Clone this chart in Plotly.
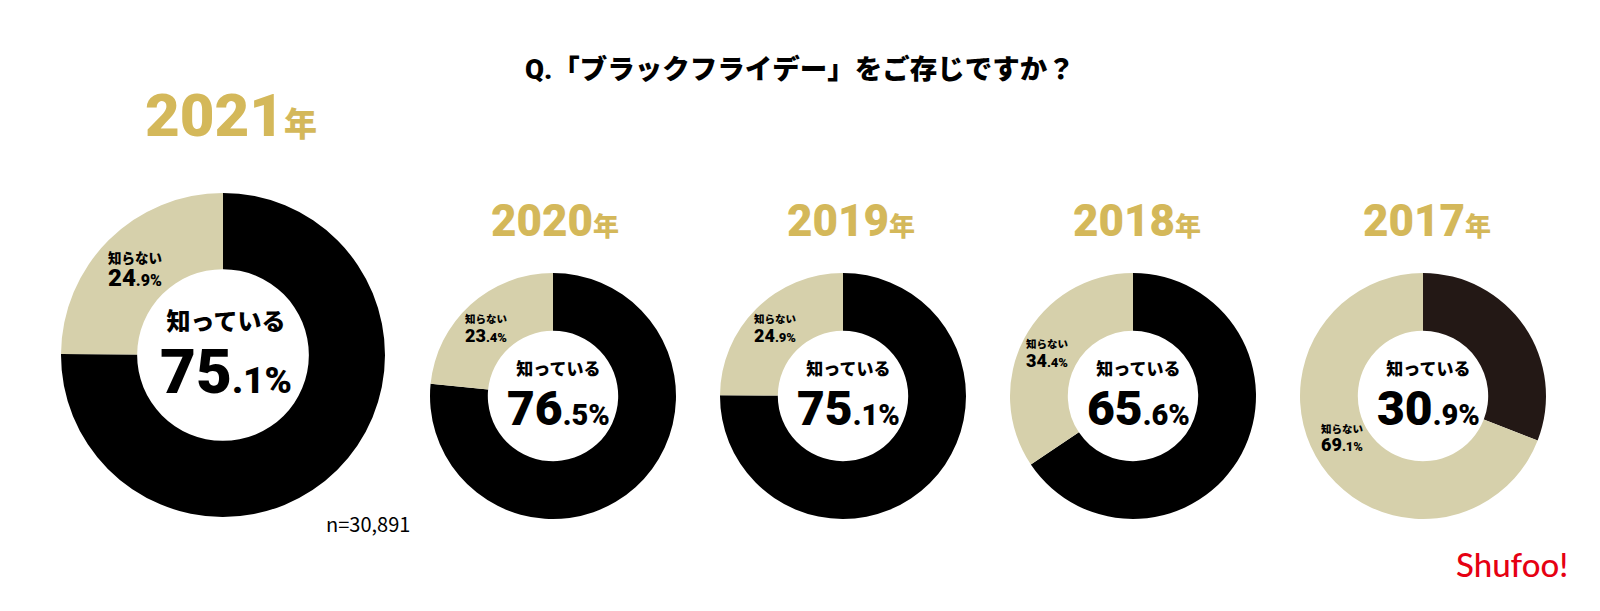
import plotly.graph_objects as go

# ---- data ----
years = ["2021", "2020", "2019", "2018", "2017"]
known = [75.1, 76.5, 75.1, 65.6, 30.9]
unknown = [24.9, 23.4, 24.9, 34.4, 69.1]
labels = ["知っている", "知らない"]
title_text = "Q.「ブラックフライデー」をご存じですか？"
n_text = "n=30,891"
logo_text = "Shufoo!"

W, H = 1600, 611
# ---- layout (pixel positions) ----
centers = [(223, 355), (553, 396), (843, 396), (1133, 396), (1423, 396)]
radii = [162, 123, 123, 123, 123]
year_pos = [(231, 116), (555, 221), (851, 221), (1137, 221), (1427, 221)]
unk_pos = [(135, 269), (486, 328), (775, 328), (1047, 353), (1342, 438)]
known_colors = ["#000000", "#000000", "#000000", "#000000", "#231815"]
TAN = "#d6d0ab"
GOLD = "#d4b85a"
FONT = "Roboto, Noto Sans CJK JP, sans-serif"


def px(x):
    return x / W


def py(y):
    return 1 - y / H


fig = go.Figure()
annotations = []

for i, yr in enumerate(years):
    cx, cy = centers[i]
    r = radii[i]
    big = i == 0
    fig.add_trace(go.Pie(
        labels=labels,
        values=[known[i], unknown[i]],
        hole=0.53,
        sort=False,
        direction="clockwise",
        rotation=0,
        textinfo="none",
        hoverinfo="label+percent",
        marker=dict(colors=[known_colors[i], TAN], line=dict(width=0)),
        domain=dict(x=[px(cx - r), px(cx + r)], y=[py(cy + r), py(cy - r)]),
        showlegend=False,
    ))
    # year label
    ys, ns = (60, 33) if big else (44, 26)
    annotations.append(dict(
        x=px(year_pos[i][0]), y=py(year_pos[i][1]), xref="paper", yref="paper",
        xanchor="center", yanchor="middle", showarrow=False,
        text=f'<span style="font-size:{ys}px">{yr}</span><span style="font-size:{ns}px">年</span>',
        font=dict(family=FONT, color=GOLD, size=ys, weight=900),
    ))
    # center label block (two lines in one text)
    k1, k2, k3, lf = (24, 62, 37, 48.5) if big else (17, 48, 29, 38.5)
    kdy = 3 if big else 2
    ip, dp = f"{known[i]:.1f}".split(".")
    annotations.append(dict(
        x=px(cx + (3 if big else 5)), y=py(cy + kdy), xref="paper", yref="paper",
        xanchor="center", yanchor="middle", showarrow=False, align="center",
        text=(f'<span style="font-size:{k1}px">{labels[0]}</span><br>'
              f'<span style="font-size:{k2}px">{ip}</span>'
              f'<span style="font-size:{k3}px">.{dp}%</span>'),
        font=dict(family=FONT, color="#000000", size=lf, weight=900),
    ))
    # unknown labels
    u1, u2, u3 = (13.5, 24, 16) if big else (10.5, 18, 13)
    udy = 11 if big else 9
    ux, uy = unk_pos[i]
    annotations.append(dict(
        x=px(ux), y=py(uy - udy), xref="paper", yref="paper",
        xanchor="center", yanchor="middle", showarrow=False,
        text=labels[1], font=dict(family=FONT, color="#000000", size=u1, weight=900),
    ))
    ip, dp = f"{unknown[i]:.1f}".split(".")
    annotations.append(dict(
        x=px(ux), y=py(uy + udy - 2), xref="paper", yref="paper",
        xanchor="center", yanchor="middle", showarrow=False,
        text=f'<span style="font-size:{u2}px">{ip}</span><span style="font-size:{u3}px">.{dp}%</span>',
        font=dict(family=FONT, color="#000000", size=u2, weight=900),
    ))

# title
annotations.append(dict(
    x=px(800), y=py(69), xref="paper", yref="paper", xanchor="center", yanchor="middle",
    showarrow=False, text=title_text,
    font=dict(family=FONT, color="#000000", size=27.5, weight=900),
))
# n
annotations.append(dict(
    x=px(368), y=py(523), xref="paper", yref="paper", xanchor="center", yanchor="middle",
    showarrow=False, text=n_text,
    font=dict(family="Noto Sans CJK JP, sans-serif", color="#000000", size=20),
))
# logo
annotations.append(dict(
    x=px(1512), y=py(564), xref="paper", yref="paper", xanchor="center", yanchor="middle",
    showarrow=False, text=logo_text,
    font=dict(family="Lato, sans-serif", color="#e60012", size=33, weight=500),
))

fig.update_layout(
    width=W, height=H,
    margin=dict(l=0, r=0, t=0, b=0, pad=0),
    paper_bgcolor="#ffffff", plot_bgcolor="#ffffff",
    annotations=annotations,
    showlegend=False,
)

fig.write_html(
    "out.html",
    config={"displayModeBar": False},
    post_script="document.body.style.margin='0';",
)
